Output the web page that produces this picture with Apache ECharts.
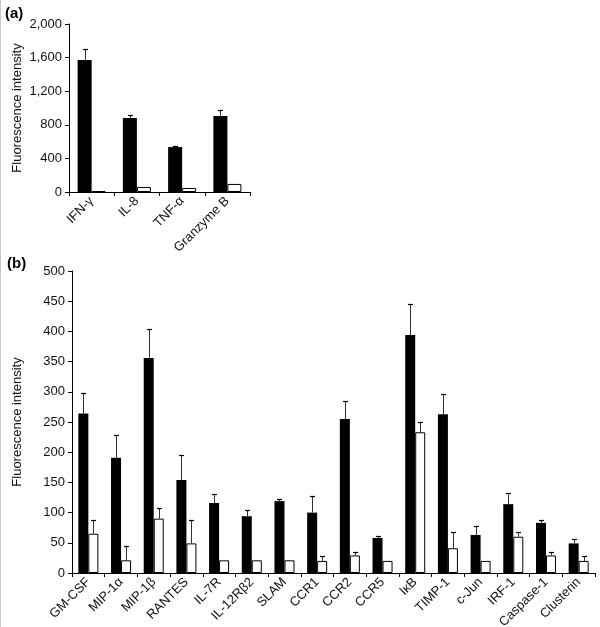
<!DOCTYPE html>
<html>
<head>
<meta charset="utf-8">
<script src="https://cdn.jsdelivr.net/npm/echarts@6/dist/echarts.min.js"></script>
<style>
html,body{margin:0;padding:0;background:#fff;}
#chart{width:600px;height:627px;}
</style>
</head>
<body>
<div id="chart"></div>
<script>
// ---------- Data ----------
const catsA = ['IFN-\u03b3', 'IL-8', 'TNF-\u03b1', 'Granzyme B'];
const blackA = [1570, 880, 535, 905];
const blackErrA = [130, 35, 15, 75];
const whiteA = [12, 60, 48, 96];
const whiteErrA = [0, 0, 0, 0];
const ticksA = [0, 400, 800, 1200, 1600, 2000];

const catsB = ['GM-CSF', 'MIP-1\u03b1', 'MIP-1\u03b2', 'RANTES', 'IL-7R', 'IL-12R\u03b22', 'SLAM', 'CCR1',
  'CCR2', 'CCR5', 'I\u03baB', 'TIMP-1', 'c-Jun', 'IRF-1', 'Caspase-1', 'Clusterin'];
const blackB = [264, 191, 356, 154, 116, 94, 119, 100, 255, 58, 394, 263, 63, 114, 83, 49];
const blackErrB = [34, 38, 48, 42, 14, 11, 3, 27, 30, 4, 52, 34, 14, 19, 5, 8];
const whiteB = [65, 21, 90, 49, 21, 21, 21, 20, 29, 20, 233, 41, 20, 60, 29, 20];
const whiteErrB = [22, 23, 18, 39, 0, 0, 0, 8, 5, 0, 17, 27, 0, 8, 5, 8];
const ticksB = [0, 50, 100, 150, 200, 250, 300, 350, 400, 450, 500];

const FONT = '"Liberation Sans", Arial, sans-serif';
const FS = 13;

function errData(vals, errs) {
  return vals.map((v, i) => [i, v, v + errs[i], errs[i]]);
}

function errSeries(xi, yi, data, offset) {
  return {
    type: 'custom', xAxisIndex: xi, yAxisIndex: yi, z: 5,
    data: data,
    renderItem: function (params, api) {
      if (api.value(3) <= 0) return;
      const base = api.coord([api.value(0), api.value(1)]);
      const top = api.coord([api.value(0), api.value(2)]);
      const x = Math.round(base[0] + offset) + 0.5;
      const ty = Math.round(top[1]) + 0.5;
      return {
        type: 'group',
        children: [
          { type: 'line', shape: { x1: x, y1: base[1], x2: x, y2: ty }, style: { stroke: '#333', lineWidth: 1 } },
          { type: 'line', shape: { x1: x - 2.5, y1: ty, x2: x + 2.5, y2: ty }, style: { stroke: '#000', lineWidth: 1.2 } }
        ]
      };
    }
  };
}

const axisLine = { show: true, lineStyle: { color: '#000', width: 1 } };
const axisTick = { show: true, length: 4, lineStyle: { color: '#000', width: 1 } };

const chart = echarts.init(document.getElementById('chart'), null, { renderer: 'canvas' });
const BWA = 14, BWB = 10;

const option = {
  animation: false,
  backgroundColor: '#fff',
  textStyle: { fontFamily: FONT },
  grid: [
    { left: 69, top: 24, width: 181, height: 168, containLabel: false, outerBoundsMode: 'none' },
    { left: 72, top: 271, width: 523, height: 302, containLabel: false, outerBoundsMode: 'none' }
  ],
  xAxis: [
    { type: 'category', gridIndex: 0, data: catsA, axisLine, axisTick,
      axisLabel: { interval: 0, rotate: 45, fontSize: FS, color: '#111', fontFamily: FONT, margin: 7 } },
    { type: 'category', gridIndex: 1, data: catsB, axisLine, axisTick,
      axisLabel: { interval: 0, rotate: 45, fontSize: FS, color: '#111', fontFamily: FONT, margin: 7 } }
  ],
  yAxis: [
    { type: 'value', gridIndex: 0, min: ticksA[0], max: ticksA[ticksA.length - 1], interval: 400,
      axisLine, axisTick, splitLine: { show: false },
      name: 'Fluorescence intensity', nameLocation: 'middle', nameGap: 45,
      nameTextStyle: { fontSize: FS, color: '#111', fontFamily: FONT },
      axisLabel: { fontSize: FS, color: '#111', fontFamily: FONT, margin: 7,
        formatter: v => v.toLocaleString('en-US') } },
    { type: 'value', gridIndex: 1, min: ticksB[0], max: ticksB[ticksB.length - 1], interval: 50,
      axisLine, axisTick, splitLine: { show: false },
      name: 'Fluorescence intensity', nameLocation: 'middle', nameGap: 48,
      nameTextStyle: { fontSize: FS, color: '#111', fontFamily: FONT },
      axisLabel: { fontSize: FS, color: '#111', fontFamily: FONT, margin: 7 } }
  ],
  series: [
    { type: 'bar', xAxisIndex: 0, yAxisIndex: 0, data: blackA, barWidth: BWA, barGap: '0%',
      itemStyle: { color: '#000' } },
    { type: 'bar', xAxisIndex: 0, yAxisIndex: 0, data: whiteA, barWidth: BWA, barGap: '0%',
      itemStyle: { color: '#fff', borderColor: '#000', borderWidth: 1 } },
    errSeries(0, 0, errData(blackA, blackErrA), -BWA / 2),
    errSeries(0, 0, errData(whiteA, whiteErrA), BWA / 2),
    { type: 'bar', xAxisIndex: 1, yAxisIndex: 1, data: blackB, barWidth: BWB, barGap: '0%',
      itemStyle: { color: '#000' } },
    { type: 'bar', xAxisIndex: 1, yAxisIndex: 1, data: whiteB, barWidth: BWB, barGap: '0%',
      itemStyle: { color: '#fff', borderColor: '#000', borderWidth: 1 } },
    errSeries(1, 1, errData(blackB, blackErrB), -BWB / 2),
    errSeries(1, 1, errData(whiteB, whiteErrB), BWB / 2)
  ],
  graphic: [
    { type: 'text', left: 5, top: 6, style: { text: '(a)', font: 'bold 15px ' + FONT, fill: '#000' } },
    { type: 'text', left: 7, top: 256, style: { text: '(b)', font: 'bold 15px ' + FONT, fill: '#000' } },
    { type: 'line', shape: { x1: 0.5, y1: 0, x2: 0.5, y2: 627 }, style: { stroke: '#c8c8c8', lineWidth: 1 } }
  ]
};
chart.setOption(option);
</script>
</body>
</html>
